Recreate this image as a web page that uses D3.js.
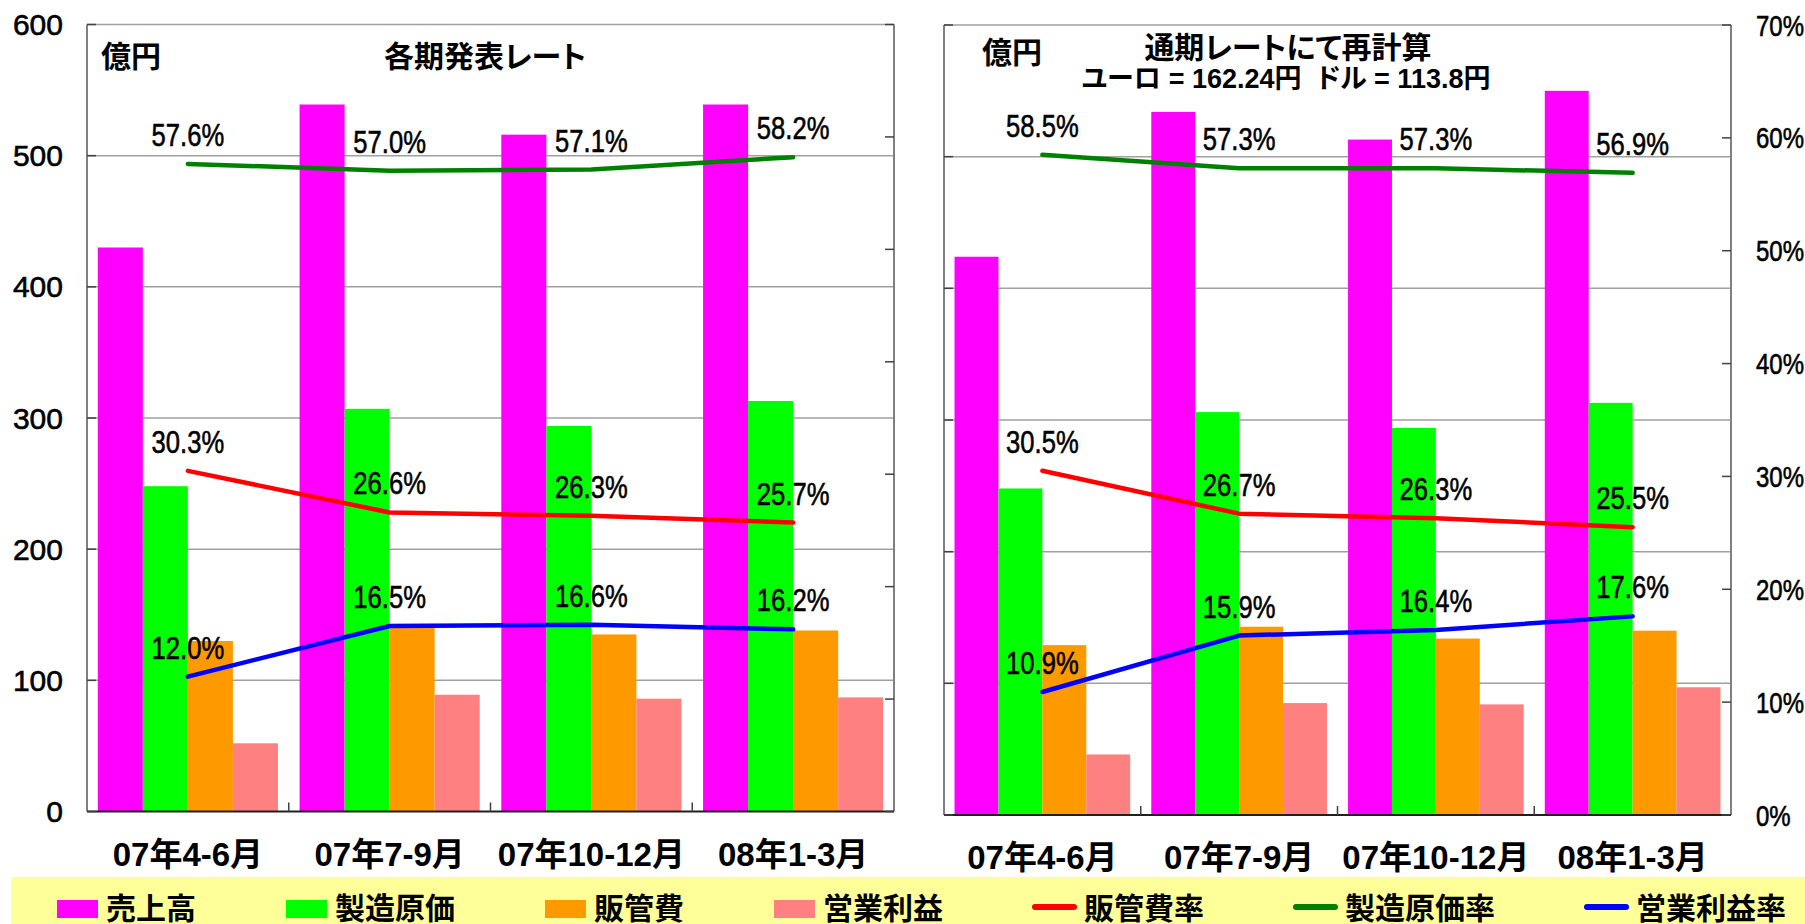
<!DOCTYPE html>
<html>
<head>
<meta charset="utf-8">
<script src="https://cdn.jsdelivr.net/npm/d3@7"></script>
<style>
  body { margin: 0; background: #fff; }
  text { font-family: "Liberation Sans", Arial, "Noto Sans CJK JP", sans-serif; fill: #000; }
  .bold { font-weight: bold; }
  .num { stroke: #000; stroke-width: 0.6px; }
  .title { font-feature-settings: "palt"; }
</style>
</head>
<body>
<svg id="chart" width="1805" height="924"></svg>
<script>
const quarters = ["07年4-6月", "07年7-9月", "07年10-12月", "08年1-3月"];
const barSeries = ["売上高", "製造原価", "販管費", "営業利益"];
const lineSeries = ["販管費率", "製造原価率", "営業利益率"];

// 各期発表レート (億円 / %)
const salesA = [430, 539, 516, 539];
const costA = [248, 307, 294, 313];
const sgaA = [130, 143, 135, 138];
const profitA = [52, 89, 86, 87];
const sgaRateA = [30.3, 26.6, 26.3, 25.7];
const costRateA = [57.6, 57.0, 57.1, 58.2];
const profitRateA = [12.0, 16.5, 16.6, 16.2];

// 通期レートにて再計算
const salesB = [424, 534, 513, 550];
const costB = [248, 306, 294, 313];
const sgaB = [129, 143, 134, 140];
const profitB = [46, 85, 84, 97];
const sgaRateB = [30.5, 26.7, 26.3, 25.5];
const costRateB = [58.5, 57.3, 57.3, 56.9];
const profitRateB = [10.9, 15.9, 16.4, 17.6];

const yTicks = [0, 100, 200, 300, 400, 500, 600];
const pctTicks = [0, 10, 20, 30, 40, 50, 60, 70];

const barColor = d3.scaleOrdinal().domain(barSeries).range(["#ff00ff", "#00ff00", "#ff9900", "#ff8080"]);
const lineColor = d3.scaleOrdinal().domain(lineSeries).range(["#ff0000", "#008000", "#0000ff"]);

const svg = d3.select("#chart");

const panels = [
  {
    left: 87, right: 894, top: 24.5, bottom: 811.5,
    bars: [salesA, costA, sgaA, profitA],
    lines: [sgaRateA, costRateA, profitRateA],
    leftLabels: true, rightLabels: false,
    titles: [
      { text: "億円", x: 101, y: 67, size: 30, anchor: "start" },
      { text: "各期発表レート", x: 384, y: 67, size: 30, anchor: "start" }
    ]
  },
  {
    left: 944, right: 1731, top: 25, bottom: 815,
    bars: [salesB, costB, sgaB, profitB],
    lines: [sgaRateB, costRateB, profitRateB],
    leftLabels: false, rightLabels: true,
    titles: [
      { text: "億円", x: 982, y: 63, size: 30, anchor: "start" },
      { text: "通期レートにて再計算", x: 1288, y: 57.5, size: 30, anchor: "middle" },
      { text: "ユーロ = 162.24円  ドル = 113.8円", x: 1286, y: 88, size: 27, anchor: "middle" }
    ]
  }
];

panels.forEach(p => {
  const g = svg.append("g");
  const x0 = d3.scaleBand().domain(quarters).range([p.left, p.right]);
  const x1 = d3.scaleBand().domain(barSeries).range([0, x0.bandwidth()]).paddingOuter(0.24);
  const y = d3.scaleLinear().domain([0, 600]).range([p.bottom, p.top]);
  const yPct = d3.scaleLinear().domain([0, 70]).range([p.bottom, p.top]);
  const cx = q => x0(q) + x0.bandwidth() / 2;

  // gridlines
  g.selectAll(".grid").data(yTicks.slice(1)).join("line")
    .attr("x1", p.left).attr("x2", p.right)
    .attr("y1", d => y(d)).attr("y2", d => y(d))
    .attr("stroke", "#a0a0a0").attr("stroke-width", 1.5);

  // bars
  quarters.forEach((q, i) => {
    g.selectAll(null).data(barSeries).join("rect")
      .attr("x", s => x0(q) + x1(s))
      .attr("width", x1.bandwidth())
      .attr("y", (s, j) => y(p.bars[j][i]))
      .attr("height", (s, j) => y(0) - y(p.bars[j][i]))
      .attr("fill", s => barColor(s));
  });

  // axes
  g.append("line").attr("x1", p.left).attr("x2", p.left).attr("y1", p.top).attr("y2", p.bottom)
    .attr("stroke", "#808080").attr("stroke-width", 2);
  g.append("line").attr("x1", p.right).attr("x2", p.right).attr("y1", p.top).attr("y2", p.bottom)
    .attr("stroke", "#808080").attr("stroke-width", 2);
  g.append("line").attr("x1", p.left).attr("x2", p.right).attr("y1", p.bottom).attr("y2", p.bottom)
    .attr("stroke", "#202020").attr("stroke-width", 2);

  g.selectAll(null).data(yTicks).join("line")
    .attr("x1", p.left).attr("x2", p.left + 9)
    .attr("y1", d => y(d)).attr("y2", d => y(d))
    .attr("stroke", "#404040").attr("stroke-width", 1.5);
  g.selectAll(null).data(pctTicks).join("line")
    .attr("x1", p.right - 9).attr("x2", p.right)
    .attr("y1", d => yPct(d)).attr("y2", d => yPct(d))
    .attr("stroke", "#404040").attr("stroke-width", 1.5);
  g.selectAll(null).data(quarters.slice(1)).join("line")
    .attr("x1", d => x0(d)).attr("x2", d => x0(d))
    .attr("y1", p.bottom - 9).attr("y2", p.bottom)
    .attr("stroke", "#404040").attr("stroke-width", 1.5);

  if (p.leftLabels) {
    g.selectAll(null).data(yTicks).join("text")
      .attr("class", "num")
      .attr("x", p.left - 24).attr("y", d => y(d) + 10.5)
      .attr("text-anchor", "end").style("font-size", "30px")
      .text(d => d);
  }
  if (p.rightLabels) {
    g.selectAll(null).data(pctTicks).join("text")
      .attr("class", "num")
      .attr("transform", d => `translate(${p.right + 25},${yPct(d) + 10.5}) scale(0.8,1)`)
      .attr("text-anchor", "start").style("font-size", "30px")
      .text(d => d + "%");
  }

  // category labels
  g.selectAll(null).data(quarters).join("text")
    .attr("class", "bold")
    .attr("x", d => cx(d)).attr("y", p.bottom + 54)
    .attr("text-anchor", "middle").style("font-size", "33px")
    .text(d => d);

  // ratio lines
  const line = d3.line().x((d, i) => cx(quarters[i])).y(d => yPct(d));
  lineSeries.forEach((s, j) => {
    g.append("path").datum(p.lines[j])
      .attr("d", line)
      .attr("fill", "none")
      .attr("stroke", lineColor(s))
      .attr("stroke-width", 4.5)
      .attr("stroke-linejoin", "round")
      .attr("stroke-linecap", "round");
  });
  lineSeries.forEach((s, j) => {
    g.selectAll(null).data(p.lines[j]).join("text")
      .attr("class", "num")
      .attr("transform", (d, i) => `translate(${cx(quarters[i])},${yPct(d) - 18}) scale(0.8,1)`)
      .attr("text-anchor", "middle").style("font-size", "32px")
      .text(d => d.toFixed(1) + "%");
  });

  // titles
  g.selectAll(null).data(p.titles).join("text")
    .attr("class", "bold title")
    .attr("x", d => d.x).attr("y", d => d.y)
    .attr("text-anchor", d => d.anchor)
    .style("font-size", d => d.size + "px")
    .style("white-space", "pre")
    .text(d => d.text);
});

// legend
const legend = svg.append("g");
legend.append("rect").attr("x", 11.5).attr("y", 877).attr("width", 1805 - 11.5).attr("height", 47).attr("fill", "#ffff99");

const legendItems = barSeries.map(s => ({ name: s, type: "bar", color: barColor(s) }))
  .concat(lineSeries.map(s => ({ name: s, type: "line", color: lineColor(s) })));

let lx = 57;
legendItems.forEach(item => {
  const li = legend.append("g");
  let sw;
  if (item.type === "bar") {
    li.append("rect").attr("x", lx).attr("y", 900).attr("width", 41).attr("height", 18).attr("fill", item.color);
    sw = 41;
  } else {
    li.append("line").attr("x1", lx + 2).attr("x2", lx + 41).attr("y1", 907).attr("y2", 907)
      .attr("stroke", item.color).attr("stroke-width", 6).attr("stroke-linecap", "round");
    sw = 43;
  }
  const t = li.append("text").attr("class", "bold")
    .attr("x", lx + sw + 8).attr("y", 919)
    .style("font-size", "30px")
    .text(item.name);
  lx += sw + 8 + t.node().getComputedTextLength() + 90;
});
</script>
</body>
</html>
